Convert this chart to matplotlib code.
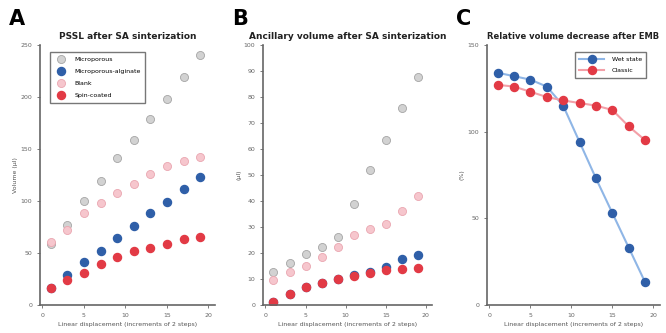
import matplotlib
matplotlib.use("Agg")
import matplotlib.pyplot as plt

plt.rcParams['font.family'] = ['DejaVu Sans']

# ---- data ----
x_steps = [1, 3, 5, 7, 9, 11, 13, 15, 17, 19]

a_microporous = [59, 77, 100, 119, 141, 159, 179, 198, 219, 240]
a_micro_alg = [16, 29, 41, 52, 64, 76, 88, 99, 112, 123]
a_blank = [61, 72, 88, 98, 108, 116, 126, 134, 138, 142]
a_spin = [16, 24, 31, 39, 46, 52, 55, 59, 63, 65]
a_labels = ["Microporous", "Microporous-alginate", "Blank", "Spin-coated"]

b_microporous = [12.7, 16, 19.6, 22.3, 26.2, 39, 52, 63.5, 75.8, 87.7]
b_micro_alg = [1.2, 4.2, 6.9, 8.5, 10.2, 11.5, 12.7, 14.6, 17.7, 19.2]
b_blank = [9.6, 12.7, 15, 18.5, 22.3, 27, 29.2, 31, 36, 42]
b_spin = [1.2, 4.2, 6.9, 8.5, 10, 11.2, 12.3, 13.5, 13.8, 14.2]

c_wet = [134, 132, 130, 126, 115, 94, 73, 53, 33, 13]
c_classic = [127, 126, 123, 120, 118, 116.5, 115, 112.5, 103, 95]
c_labels = ["Wet state", "Classic"]

titles = ["PSSL after SA sinterization",
          "Ancillary volume after SA sinterization",
          "Relative volume decrease after EMB"]
panel_letters = ["A", "B", "C"]
xlabel = "Linear displacement (increments of 2 steps)"
ylabels = ["Volume (\u00b5l)", "(\u00b5l)", "(%)"]

# ---- styles ----
blue = "#2f5fa8"
red = "#e23a45"
gray_face = "#d2d2d2"
gray_edge = "#a5a5a5"
pink_face = "#f6c6cd"
pink_edge = "#eaa6b0"

fig = plt.figure(figsize=(6.66, 3.33), dpi=100)
positions = [
    [0.060, 0.084, 0.263, 0.781],
    [0.395, 0.084, 0.254, 0.781],
    [0.731, 0.084, 0.260, 0.781],
]
axes = [fig.add_axes(p) for p in positions]

ms = 5.8
def style(ax, ylim, yticks):
    ax.set_xlim(-0.3, 20.8)
    ax.set_ylim(*ylim)
    ax.set_xticks([0, 5, 10, 15, 20])
    ax.set_yticks(yticks)
    for s in ["top", "right"]:
        ax.spines[s].set_visible(False)
    for s in ["left", "bottom"]:
        ax.spines[s].set_color("#666666")
        ax.spines[s].set_linewidth(1.2)
    ax.tick_params(labelsize=4.5, colors="#666666", length=2, width=0.6)
    ax.set_xlabel(xlabel, fontsize=4.5, color="#555555", labelpad=3)

# Panel A
ax = axes[0]
ax.plot(x_steps, a_microporous, 'o', ms=ms, mfc=gray_face, mec=gray_edge, mew=0.6, label=a_labels[0])
ax.plot(x_steps, a_blank, 'o', ms=ms, mfc=pink_face, mec=pink_edge, mew=0.6, label=a_labels[2])
ax.plot(x_steps, a_micro_alg, 'o', ms=ms, mfc=blue, mec=blue, label=a_labels[1])
ax.plot(x_steps, a_spin, 'o', ms=ms, mfc=red, mec=red, label=a_labels[3])
style(ax, (0, 250), [0, 50, 100, 150, 200, 250])
h, l = ax.get_legend_handles_labels()
order = [0, 2, 1, 3]
ax.legend([h[i] for i in order], [l[i] for i in order], loc="upper left",
          fontsize=4.5, frameon=True, fancybox=False, edgecolor="#555555",
          bbox_to_anchor=(0.04, 0.985), handletextpad=1.0, borderpad=0.7,
          labelspacing=1.1, handlelength=2.2)

# Panel B
ax = axes[1]
ax.plot(x_steps, b_microporous, 'o', ms=ms, mfc=gray_face, mec=gray_edge, mew=0.6)
ax.plot(x_steps, b_blank, 'o', ms=ms, mfc=pink_face, mec=pink_edge, mew=0.6)
ax.plot(x_steps, b_micro_alg, 'o', ms=ms, mfc=blue, mec=blue)
ax.plot(x_steps, b_spin, 'o', ms=ms, mfc=red, mec=red)
style(ax, (0, 100), list(range(0, 101, 10)))

# Panel C
ax = axes[2]
ax.plot(x_steps, c_wet, '-o', color="#8fb6e6", lw=1.5, ms=ms, mfc=blue, mec=blue, label=c_labels[0])
ax.plot(x_steps, c_classic, '-o', color="#f3a0a8", lw=1.5, ms=ms, mfc=red, mec=red, label=c_labels[1])
style(ax, (0, 150), [0, 50, 100, 150])
ax.legend(loc="upper right", fontsize=4.5, frameon=True, fancybox=False,
          edgecolor="#555555", bbox_to_anchor=(0.94, 0.985), handlelength=4.0,
          borderpad=0.7, labelspacing=1.0, handletextpad=1.2)

title_sizes = [6.5, 6.5, 6.0]
for ax, t, letter, yl, ts in zip(axes, titles, panel_letters, ylabels, title_sizes):
    ax.set_title(t, fontsize=ts, fontweight="bold", pad=4, color="#222222")
    ax.set_ylabel(yl, fontsize=4.5, color="#555555", labelpad=2)
    ax.text(-0.18, 1.10, letter, transform=ax.transAxes, fontsize=15,
            fontweight="bold", va="center", ha="left")

fig.savefig("out.png", dpi=100)
